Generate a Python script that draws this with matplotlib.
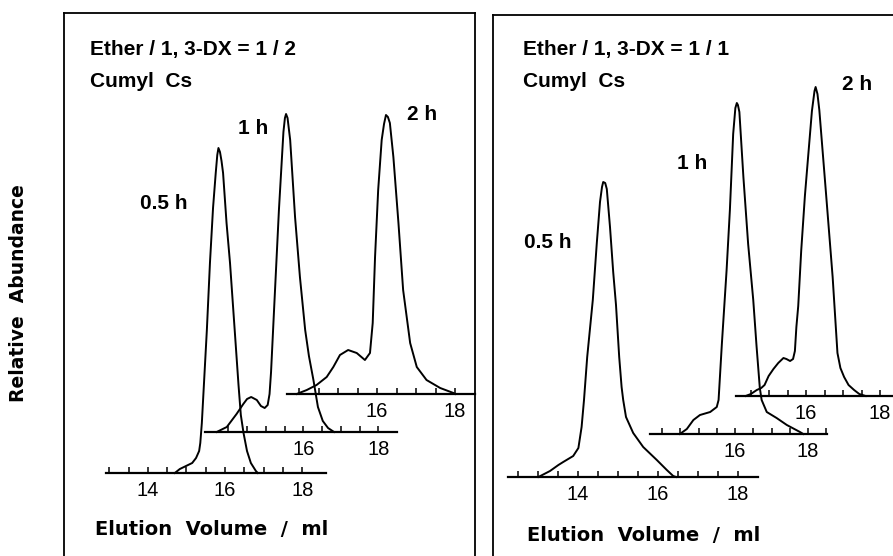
import matplotlib
matplotlib.use("Agg")
import matplotlib.pyplot as plt
import numpy as np

W, H = 893, 556

# --- GPC traces: elution volume (ml) vs detector response (arb.) ---
# left panel: Ether / 1,3-DX = 1/2
left_05_ml = [14.70, 14.83, 14.99, 15.15, 15.25, 15.33, 15.36, 15.40, 15.53, 15.61, 15.69, 15.76, 15.80, 15.83,
              15.87, 15.91, 15.95, 16.04, 16.13, 16.26, 16.35, 16.41, 16.48, 16.57, 16.67, 16.80, 16.85]
left_05_y = [0, 4, 7, 10, 15, 22, 30, 50, 143, 210, 265, 300, 318, 325,
             321, 312, 300, 250, 210, 138, 88, 58, 40, 22, 10, 2, 0]

left_1_ml = [13.69, 13.96, 14.22, 14.40, 14.50, 14.61, 14.76, 14.87, 14.97, 15.05, 15.10, 15.14, 15.22, 15.35,
             15.47, 15.51, 15.54, 15.58, 15.65, 15.78, 15.91, 16.05, 16.15, 16.27, 16.39, 16.52, 16.66, 16.82]
left_1_y = [0, 5, 18, 28, 33, 35, 32, 26, 24, 27, 38, 60, 122, 222,
            300, 314, 318, 314, 292, 215, 155, 102, 76, 52, 25, 11, 4, 0]

left_2_ml = [13.94, 14.20, 14.45, 14.71, 14.88, 15.05, 15.26, 15.48, 15.69, 15.82, 15.89, 15.95, 16.03, 16.12,
             16.18, 16.23, 16.28, 16.33, 16.42, 16.55, 16.67, 16.85, 17.02, 17.27, 17.62, 17.96, 18.00]
left_2_y = [0, 4, 9, 17, 27, 39, 44, 41, 34, 41, 71, 137, 204, 254,
            270, 279, 277, 271, 237, 171, 104, 51, 27, 14, 6, 1, 0]

# right panel: Ether / 1,3-DX = 1/1
right_05_ml = [13.01, 13.30, 13.51, 13.63, 13.88, 14.01, 14.09, 14.15, 14.23, 14.37, 14.47, 14.55, 14.60, 14.63,
               14.68, 14.72, 14.80, 14.88, 14.95, 15.03, 15.09, 15.13, 15.20, 15.38, 15.63, 15.97, 16.22, 16.38, 16.45]
right_05_y = [0, 6, 12, 15, 21, 29, 50, 77, 120, 177, 234, 275, 290, 295,
              294, 288, 250, 205, 172, 120, 90, 77, 60, 44, 30, 17, 7, 1, 0]

right_1_ml = [14.49, 14.68, 14.86, 15.04, 15.32, 15.50, 15.55, 15.64, 15.77, 15.86, 15.95, 16.01, 16.05,
              16.08, 16.12, 16.23, 16.36, 16.50, 16.59, 16.68, 16.73, 16.87, 17.14, 17.42, 17.78, 17.87]
right_1_y = [0, 5, 14, 19, 22, 27, 34, 90, 164, 224, 300, 326, 331,
             329, 322, 257, 190, 134, 88, 46, 34, 22, 16, 9, 2, 0]

right_2_ml = [14.37, 14.51, 14.67, 14.79, 14.88, 14.99, 15.12, 15.25, 15.39, 15.47, 15.57, 15.65, 15.70, 15.74,
              15.79, 15.87, 15.97, 16.05, 16.16, 16.23, 16.26, 16.31, 16.36, 16.54, 16.72, 16.85, 16.93, 17.03,
              17.15, 17.30, 17.44, 17.61]
right_2_y = [0, 2, 6, 8, 11, 20, 27, 33, 38, 37, 35, 37, 45, 69,
             90, 145, 200, 236, 285, 305, 309, 302, 286, 203, 119, 43, 28, 19,
             11, 6, 2, 0]

tick_labels_full = [14, 16, 18]
tick_labels_short = [16, 18]

titles = ["Ether / 1, 3-DX = 1 / 2", "Ether / 1, 3-DX = 1 / 1"]
initiator = "Cumyl  Cs"
time_labels = ["0.5 h", "1 h", "2 h"]


def fx(x):
    return x / W


def fy(y):
    return 1 - y / H


# --- layout of each staggered baseline (pixels): baseline y, x of 16 ml, px per ml, axis range, ticks ---
traces = [
    (left_05_ml, left_05_y, 473, 225.0, 38.6, (12.92, 18.62), np.arange(13, 18.01, 0.5), tick_labels_full),
    (left_1_ml, left_1_y, 432, 303.3, 37.5, (13.38, 18.50), np.arange(14, 18.01, 0.5), tick_labels_short),
    (left_2_ml, left_2_y, 394, 377.0, 39.0, (13.69, 18.50), np.arange(14, 18.01, 0.5), tick_labels_short),
    (right_05_ml, right_05_y, 477, 658.0, 40.0, (12.25, 18.50), np.arange(12.5, 18.01, 0.5), tick_labels_full),
    (right_1_ml, right_1_y, 434, 735.0, 36.5, (13.67, 18.52), np.arange(14, 18.51, 0.5), tick_labels_short),
    (right_2_ml, right_2_y, 396, 806.0, 37.0, (14.11, 18.70), np.arange(14.5, 18.51, 0.5), tick_labels_short),
]

fig = plt.figure(figsize=(W / 100, H / 100), dpi=100)
fig.patch.set_facecolor("white")

# panel frames
for left, right, top in [(64, 475, 13), (493, 910, 15)]:
    fr = fig.add_axes([fx(left), fy(580), (right - left) / W, (580 - top) / H])
    fr.set_xticks([])
    fr.set_yticks([])
    fr.patch.set_alpha(0)
    for sp in fr.spines.values():
        sp.set_linewidth(1.3)

TOP = 60
for ml, resp, base, x16, s, xlim, ticks, labs in traces:
    left_px = x16 + (xlim[0] - 16) * s
    width_px = (xlim[1] - xlim[0]) * s
    ax = fig.add_axes([fx(left_px), fy(base), width_px / W, (base - TOP) / H])
    ax.patch.set_alpha(0)
    ax.plot(ml, resp, color="black", lw=1.4, clip_on=False, solid_joinstyle="round")
    ax.set_xlim(xlim)
    ax.set_ylim(0, base - TOP)
    for side in ["top", "left", "right"]:
        ax.spines[side].set_visible(False)
    ax.spines["bottom"].set_linewidth(1.6)
    ax.set_yticks([])
    ax.set_xticks(ticks)
    ax.set_xticklabels([str(int(t)) if (t % 1 == 0 and int(t) in labs) else "" for t in ticks])
    ax.tick_params(axis="x", direction="in", length=4, width=1.1, pad=6, labelsize=14.5)
    for lab in ax.get_xticklabels():
        lab.set_family("Liberation Sans")

bold = dict(fontweight="bold", family="Liberation Sans", fontsize=15)

fig.text(fx(90), fy(55), titles[0], va="baseline", **bold)
fig.text(fx(90), fy(87), initiator, va="baseline", **bold)
fig.text(fx(523), fy(55), titles[1], va="baseline", **bold)
fig.text(fx(523), fy(87), initiator, va="baseline", **bold)

for (x, y), lab in zip([(164, 204), (253, 128), (422, 115)], time_labels):
    fig.text(fx(x), fy(y), lab, ha="center", va="center", **bold)
for (x, y), lab in zip([(548, 243), (692, 164), (857, 85)], time_labels):
    fig.text(fx(x), fy(y), lab, ha="center", va="center", **bold)

fig.text(fx(19), fy(293), "Relative  Abundance", rotation=90, ha="center", va="center",
         fontweight="bold", family="DejaVu Sans", fontsize=13.5)
fig.text(fx(95), fy(535), "Elution  Volume  /  ml", va="baseline",
         fontweight="bold", family="DejaVu Sans", fontsize=14)
fig.text(fx(527), fy(541), "Elution  Volume  /  ml", va="baseline",
         fontweight="bold", family="DejaVu Sans", fontsize=14)

fig.savefig("out.png", dpi=100)
